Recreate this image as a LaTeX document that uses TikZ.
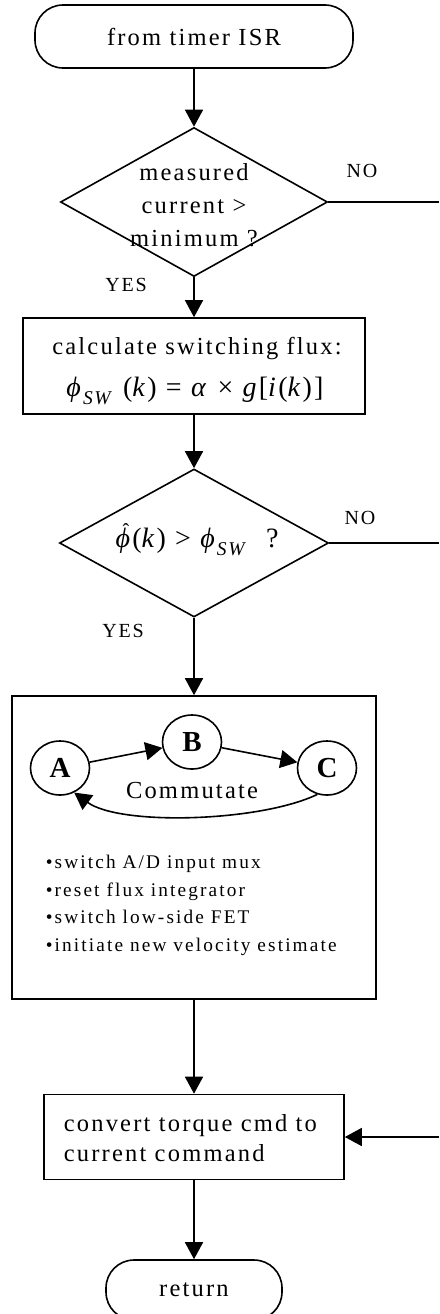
\documentclass[tikz,border=0pt]{standalone}
\usepackage{fontspec}
\setmainfont{Liberation Serif}[LetterSpace=9]
\newfontfamily\mf{Liberation Serif}[LetterSpace=8]
\usetikzlibrary{arrows.meta,shapes.geometric}
\newcommand{\myphi}{\textit{ϕ}}
\newcommand{\mysub}[1]{\raisebox{-0.3em}{\fontsize{19.5}{20}\selectfont\textit{#1}}}
\newcommand{\phihat}{\ooalign{\myphi\cr\hidewidth\kern0.14em\raisebox{0.36em}{\fontsize{20}{20}\selectfont ˆ}\hidewidth\cr}}
\begin{document}
\begin{tikzpicture}[x=1pt,y=-1pt, line width=1.6pt,
  arr/.style={-{Triangle[width=18pt,length=17pt]}},
  term/.style={draw, rounded corners=28pt, inner sep=0},
  box/.style={draw, rectangle, inner sep=0},
  dec/.style={draw, diamond, inner sep=0},
  st/.style={draw, ellipse, inner sep=0, minimum width=59pt, minimum height=54pt, font=\fontsize{29}{30}\selectfont\bfseries},
  lab/.style={inner sep=0, font=\fontsize{20}{24}\selectfont},
  txt/.style={inner sep=0, font=\fontsize{24.5}{27}\selectfont},
  mth/.style={inner sep=0, font=\mf\fontsize{28}{30}\selectfont}]
\useasboundingbox (0,0) rectangle (439,1314);
% start
\node[term, minimum width=318pt, minimum height=63pt, txt] (start) at (194,36.5) {from timer ISR};
% decision 1
\node[dec, minimum width=267pt, minimum height=149pt] (d1) at (194,202) {};
\node[txt, align=center, font=\fontsize{24.5}{33}\selectfont] (d1t) at (194,205) {measured\\current >\\minimum ?};
\node[lab] (no1) at (362,171) {NO};
\node[lab] (yes1) at (126,285) {YES};
\coordinate (e1) at (439,202);
% box 1
\node[box, minimum width=342pt, minimum height=96pt] (b1) at (194,366) {};
\node[txt] (b1a) at (197,349) {calculate switching flux:};
\node[mth] (b1b) at (195,391) {\myphi\mysub{SW} (\textit{k}) = \textit{α} × \textit{g}[\textit{i}(\textit{k})]};
% decision 2
\node[dec, minimum width=269pt, minimum height=148pt] (d2) at (194,543) {};
\node[mth] (d2t) at (197,542) {\phihat(\textit{k}) > \myphi\mysub{SW}\ \ ?};
\node[lab] (no2) at (360,518) {NO};
\node[lab] (yes2) at (123,631) {YES};
\coordinate (e2) at (439,543);
% box 2
\node[box, minimum width=364pt, minimum height=303pt] (b2) at (194,847.5) {};
\node[st] (A) at (60,768) {A};
\node[st] (B) at (192,742) {B};
\node[st] (C) at (327,768) {C};
\node[txt] (cm) at (192,790) {Commutate};
\node[anchor=west, align=left, inner sep=0, font=\fontsize{19.3}{27.7}\selectfont\addfontfeatures{LetterSpace=11}] (bl) at (45,905.5)
  {•switch A/D input mux\\•reset flux integrator\\•switch low-side FET\\•initiate new velocity estimate};
% box 3
\node[box, minimum width=300pt, minimum height=85pt] (b3) at (194,1137) {};
\node[anchor=west, align=left, inner sep=0, font=\fontsize{24.5}{30}\selectfont] (b3t) at (63,1138) {convert torque cmd to\\current command};
\coordinate (e3) at (439,1137);
% return
\node[term, minimum width=176pt, minimum height=60pt, txt] (ret) at (194,1290) {return};
% connectors
\draw[arr] (start) -- (d1);
\draw (d1.east) -- (e1);
\draw[arr] (d1) -- (b1);
\draw[arr] (b1) -- (d2);
\draw (d2.east) -- (e2);
\draw[arr] (d2) -- (b2);
\draw[arr] (A) -- (B);
\draw[arr] (B) -- (C);
\draw[arr] (C.250) .. controls (260,822) and (120,826) .. (A.300);
\draw[arr] (b2) -- (b3);
\draw[arr] (e3) -- (b3);
\draw[arr] (b3) -- (ret);
\end{tikzpicture}
\end{document}
